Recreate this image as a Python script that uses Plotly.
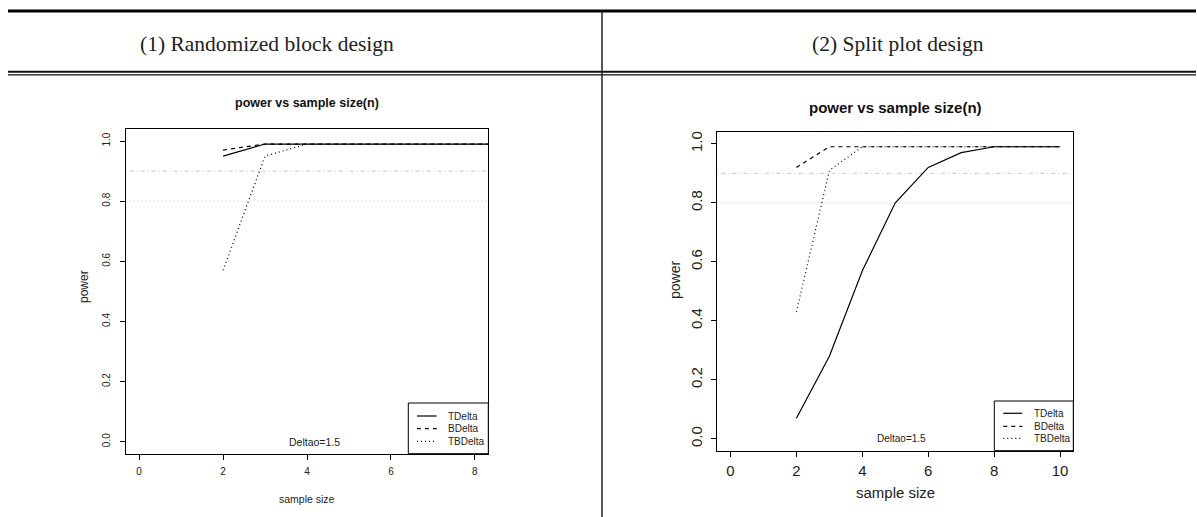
import plotly.graph_objects as go

W, H = 1197, 517

# ---------------- data ----------------
sample_n = [2, 3, 4, 5, 6, 7, 8, 9, 10]

# (1) Randomized block design
rb_tdelta = [0.95, 0.99, 0.99, 0.99, 0.99, 0.99, 0.99, 0.99, 0.99]
rb_bdelta = [0.97, 0.99, 0.99, 0.99, 0.99, 0.99, 0.99, 0.99, 0.99]
rb_tbdelta = [0.57, 0.95, 0.99, 0.99, 0.99, 0.99, 0.99, 0.99, 0.99]

# (2) Split plot design
sp_tdelta = [0.07, 0.28, 0.57, 0.80, 0.92, 0.97, 0.99, 0.99, 0.99]
sp_bdelta = [0.92, 0.99, 0.99, 0.99, 0.99, 0.99, 0.99, 0.99, 0.99]
sp_tbdelta = [0.43, 0.91, 0.99, 0.99, 0.99, 0.99, 0.99, 0.99, 0.99]

ref_levels = [0.9, 0.8]
series_names = ["TDelta", "BDelta", "TBDelta"]
panel_titles = ["(1) Randomized block design", "(2) Split plot design"]
y_ticks = [0, 0.2, 0.4, 0.6, 0.8, 1.0]
x_ticks_left = [0, 2, 4, 6, 8]
x_ticks_right = [0, 2, 4, 6, 8, 10]

SANS = "Liberation Sans, Arial, sans-serif"
SERIF = "Liberation Serif, Times New Roman, serif"


def px(x):
    return x / W


def py(y):
    return 1 - y / H


dashes = ["solid", "4px,4px", "1px,3px"]

fig = go.Figure()

left_series = [rb_tdelta, rb_bdelta, rb_tbdelta]
right_series = [sp_tdelta, sp_bdelta, sp_tbdelta]

for name, vals, d in zip(series_names, left_series, dashes):
    fig.add_trace(go.Scatter(
        x=sample_n, y=vals, mode="lines", name=name, showlegend=False,
        line=dict(color="black", width=1.2, dash=d),
        xaxis="x", yaxis="y", hoverinfo="skip"))

for name, vals, d in zip(series_names, right_series, dashes):
    fig.add_trace(go.Scatter(
        x=sample_n, y=vals, mode="lines", name=name, showlegend=False,
        line=dict(color="black", width=1.2, dash=d),
        xaxis="x2", yaxis="y2", hoverinfo="skip"))

# plot box geometry (pixel)
L = dict(x0=125.7, x1=488.3, y0=129.0, y1=453.7)
R = dict(x0=717.3, x1=1073.3, y0=132.0, y1=450.7)

axis_common = dict(
    showgrid=False, zeroline=False, showline=True, mirror=True,
    linecolor="black", linewidth=1, ticks="outside", ticklen=5,
    tickcolor="black", tickwidth=1,
)

fig.update_layout(
    width=W, height=H,
    margin=dict(l=0, r=0, t=0, b=0),
    paper_bgcolor="white", plot_bgcolor="white",
    showlegend=False,
    xaxis=dict(domain=[px(L["x0"]), px(L["x1"])], anchor="y",
               range=[-0.32, 8.32], tickvals=x_ticks_left,
               ticklabelstandoff=3,
               tickfont=dict(family=SANS, size=10, color="#222"),
               **axis_common),
    yaxis=dict(domain=[py(L["y1"]), py(L["y0"])], anchor="x",
               range=[-0.04, 1.04], tickvals=y_ticks, tickformat=".1f",
               tickangle=-90, ticklabelstandoff=6,
               tickfont=dict(family=SANS, size=10, color="#222"),
               **axis_common),
    xaxis2=dict(domain=[px(R["x0"]), px(R["x1"])], anchor="y2",
                range=[-0.4, 10.4], tickvals=x_ticks_right,
                ticklabelstandoff=1,
                tickfont=dict(family=SANS, size=15, color="#222"),
                **axis_common),
    yaxis2=dict(domain=[py(R["y1"]), py(R["y0"])], anchor="x2",
                range=[-0.04, 1.04], tickvals=y_ticks, tickformat=".1f",
                tickangle=-90, ticklabelstandoff=3,
                tickfont=dict(family=SANS, size=15, color="#222"),
                **axis_common),
)

shapes = []
ann = []

# reference power levels
ref_dash = ["1px,3px,4px,3px", "1px,3px"]
for xr, yr in (("x domain", "y"), ("x2 domain", "y2")):
    for lvl, d in zip(ref_levels, ref_dash):
        shapes.append(dict(type="line", xref=xr, yref=yr, x0=0, x1=1, y0=lvl, y1=lvl,
                           line=dict(color="#c4c4c4", width=1, dash=d), layer="below"))

# table rules
shapes.append(dict(type="line", xref="paper", yref="paper", x0=px(8), x1=px(1196),
                   y0=py(11), y1=py(11), line=dict(color="black", width=3)))
shapes.append(dict(type="line", xref="paper", yref="paper", x0=px(8), x1=px(1196),
                   y0=py(71.8), y1=py(71.8), line=dict(color="#111", width=2)))
shapes.append(dict(type="line", xref="paper", yref="paper", x0=px(8), x1=px(1196),
                   y0=py(74.8), y1=py(74.8), line=dict(color="#111", width=1.3)))
shapes.append(dict(type="line", xref="paper", yref="paper", x0=px(602), x1=px(602),
                   y0=py(11), y1=py(517), line=dict(color="#222", width=1.5)))

# legend keys (R-style legend boxes)
legend_geo = [
    dict(box=(408.3, 403.0, L["x1"], L["y1"]), rows=[416.0, 428.7, 441.3],
         line=(417.0, 436.7), text_x=446.0),
    dict(box=(994.3, 401.0, R["x1"], R["y1"]), rows=[413.3, 426.3, 438.3],
         line=(1003.3, 1022.3), text_x=1031.7),
]
for g in legend_geo:
    bx0, by0, bx1, by1 = g["box"]
    shapes.append(dict(type="rect", xref="paper", yref="paper",
                       x0=px(bx0), x1=px(bx1), y0=py(by1), y1=py(by0),
                       line=dict(color="black", width=1), fillcolor="white", layer="above"))
    for name, d, ry in zip(series_names, dashes, g["rows"]):
        shapes.append(dict(type="line", xref="paper", yref="paper",
                           x0=px(g["line"][0]), x1=px(g["line"][1]), y0=py(ry), y1=py(ry),
                           line=dict(color="black", width=1.2, dash=d), layer="above"))
        ann.append(dict(text=name, xref="paper", yref="paper", x=px(g["text_x"]), y=py(ry),
                        showarrow=False, xanchor="left", yanchor="middle",
                        font=dict(family=SANS, size=10, color="#222")))

fig.update_layout(shapes=shapes)

# header cells
ann.append(dict(text=panel_titles[0], xref="paper", yref="paper", x=px(267), y=py(44),
                showarrow=False, xanchor="center", yanchor="middle",
                font=dict(family=SERIF, size=21.5, color="#222")))
ann.append(dict(text=panel_titles[1], xref="paper", yref="paper", x=px(898), y=py(44),
                showarrow=False, xanchor="center", yanchor="middle",
                font=dict(family=SERIF, size=21.5, color="#222")))
# plot titles
ann.append(dict(text="<b>power vs sample size(n)</b>", xref="paper", yref="paper",
                x=px(306.7), y=py(103.3), showarrow=False, xanchor="center", yanchor="middle",
                font=dict(family=SANS, size=12.5, color="#111")))
ann.append(dict(text="<b>power vs sample size(n)</b>", xref="paper", yref="paper",
                x=px(895), y=py(107.3), showarrow=False, xanchor="center", yanchor="middle",
                font=dict(family=SANS, size=15, color="#111")))
# axis titles
ann.append(dict(text="sample size", xref="paper", yref="paper", x=px(306.7), y=py(498.7),
                showarrow=False, xanchor="center", yanchor="middle",
                font=dict(family=SANS, size=10.5, color="#222")))
ann.append(dict(text="sample size", xref="paper", yref="paper", x=px(895), y=py(492.7),
                showarrow=False, xanchor="center", yanchor="middle",
                font=dict(family=SANS, size=15, color="#222")))
ann.append(dict(text="power", xref="paper", yref="paper", x=px(84), y=py(287),
                showarrow=False, xanchor="center", yanchor="middle", textangle=-90,
                font=dict(family=SANS, size=12, color="#222")))
ann.append(dict(text="power", xref="paper", yref="paper", x=px(675), y=py(280),
                showarrow=False, xanchor="center", yanchor="middle", textangle=-90,
                font=dict(family=SANS, size=14, color="#222")))
# Deltao labels
ann.append(dict(text="Deltao=1.5", xref="x", yref="y", x=4.17, y=0,
                showarrow=False, xanchor="center", yanchor="middle",
                font=dict(family=SANS, size=10.5, color="#222")))
ann.append(dict(text="Deltao=1.5", xref="x2", yref="y2", x=5.2, y=0,
                showarrow=False, xanchor="center", yanchor="middle",
                font=dict(family=SANS, size=10, color="#222")))
fig.update_layout(annotations=ann)

fig.write_html("out.html", config={"displayModeBar": False},
               post_script="document.body.style.margin='0';")
